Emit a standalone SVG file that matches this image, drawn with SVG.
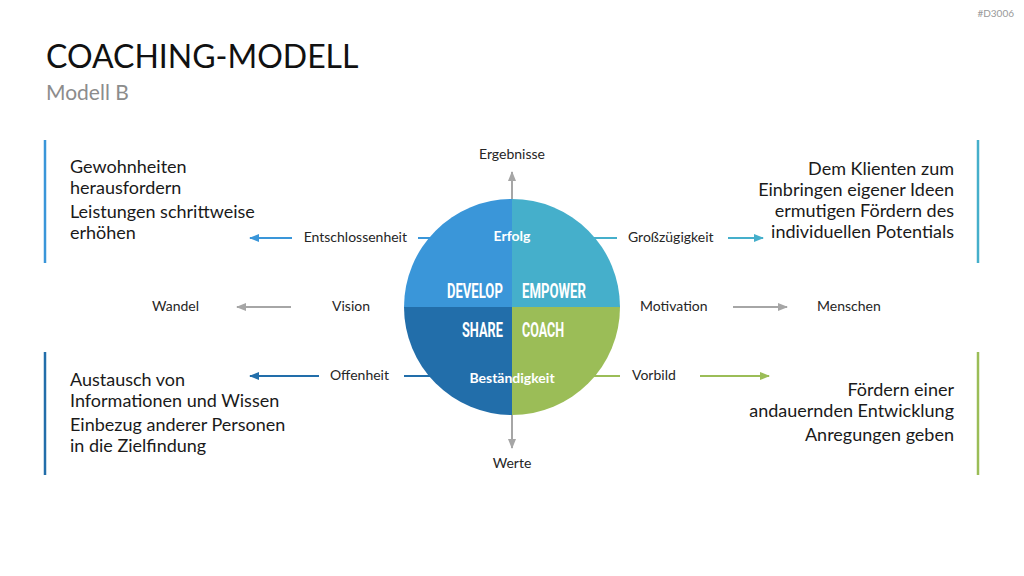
<svg xmlns="http://www.w3.org/2000/svg" width="1024" height="576" viewBox="0 0 1024 576">
<defs>
<style>
text{font-family:Lato,"Open Sans","Liberation Sans",sans-serif;}
.lbl{font-size:14px;fill:#262626;}
.body{font-size:18px;fill:#1a1a1a;}
.in{font-size:14px;font-weight:bold;fill:#fff;}
.big{font-family:Roboto,"Liberation Sans",sans-serif;font-size:21px;font-weight:bold;fill:#fff;}
.ln{stroke-width:2;fill:none;}
</style>
<marker id="aB" viewBox="0 0 10 10" refX="9" refY="5" markerWidth="5" markerHeight="5" orient="auto-start-reverse"><path d="M0,1 L10,5 L0,9 z" fill="#3a96d9"/></marker>
<marker id="aD" viewBox="0 0 10 10" refX="9" refY="5" markerWidth="5" markerHeight="5" orient="auto-start-reverse"><path d="M0,1 L10,5 L0,9 z" fill="#226eaa"/></marker>
<marker id="aT" viewBox="0 0 10 10" refX="9" refY="5" markerWidth="5" markerHeight="5" orient="auto-start-reverse"><path d="M0,1 L10,5 L0,9 z" fill="#45afcb"/></marker>
<marker id="aG" viewBox="0 0 10 10" refX="9" refY="5" markerWidth="5" markerHeight="5" orient="auto-start-reverse"><path d="M0,1 L10,5 L0,9 z" fill="#9bbd57"/></marker>
<marker id="aY" viewBox="0 0 10 10" refX="9" refY="5" markerWidth="5" markerHeight="5" orient="auto-start-reverse"><path d="M0,1 L10,5 L0,9 z" fill="#a6a6a6"/></marker>
</defs>
<rect width="1024" height="576" fill="#fff"/>
<text x="1014" y="17" text-anchor="end" style="font-size:10px;fill:#999">#D3006</text>
<text x="46" y="68" style="font-size:32px;fill:#111">COACHING-MODELL</text>
<text x="46" y="100" style="font-size:21px;fill:#8c8c8c">Modell B</text>

<g id="connectors">
<line class="ln" x1="418" y1="238" x2="440" y2="238" stroke="#3a96d9"/>
<line class="ln" x1="584" y1="238" x2="617" y2="238" stroke="#45afcb"/>
<line class="ln" x1="404" y1="376" x2="440" y2="376" stroke="#226eaa"/>
<line class="ln" x1="584" y1="376" x2="620" y2="376" stroke="#9bbd57"/>
<line class="ln" x1="292" y1="238" x2="250" y2="238" stroke="#3a96d9" marker-end="url(#aB)"/>
<line class="ln" x1="291" y1="307" x2="237" y2="307" stroke="#a6a6a6" marker-end="url(#aY)"/>
<line class="ln" x1="319" y1="376" x2="250" y2="376" stroke="#226eaa" marker-end="url(#aD)"/>
<line class="ln" x1="728" y1="238" x2="763" y2="238" stroke="#45afcb" marker-end="url(#aT)"/>
<line class="ln" x1="733" y1="307" x2="787" y2="307" stroke="#a6a6a6" marker-end="url(#aY)"/>
<line class="ln" x1="700" y1="376" x2="769" y2="376" stroke="#9bbd57" marker-end="url(#aG)"/>
</g>

<g id="circle">
<path d="M512,307 L404,307 A108,108 0 0 1 512,199 z" fill="#3a96d9"/>
<path d="M512,307 L512,199 A108,108 0 0 1 620,307 z" fill="#45afcb"/>
<path d="M512,307 L404,307 A108,108 0 0 0 512,415 z" fill="#226eaa"/>
<path d="M512,307 L512,415 A108,108 0 0 0 620,307 z" fill="#9bbd57"/>
<text class="in" x="512" y="241" text-anchor="middle">Erfolg</text>
<text class="in" x="512" y="383" text-anchor="middle">Beständigkeit</text>
<text class="big" transform="translate(447,298) scale(0.62,1)" x="0" y="0" textLength="90" lengthAdjust="spacingAndGlyphs">DEVELOP</text>
<text class="big" transform="translate(522,298) scale(0.62,1)" x="0" y="0" textLength="103" lengthAdjust="spacingAndGlyphs">EMPOWER</text>
<text class="big" transform="translate(462,337) scale(0.62,1)" x="0" y="0" textLength="66" lengthAdjust="spacingAndGlyphs">SHARE</text>
<text class="big" transform="translate(522,337) scale(0.62,1)" x="0" y="0" textLength="68" lengthAdjust="spacingAndGlyphs">COACH</text>
</g>

<g id="vertical">
<line class="ln" x1="512" y1="199" x2="512" y2="172" stroke="#a6a6a6" marker-end="url(#aY)"/>
<line class="ln" x1="512" y1="415" x2="512" y2="448" stroke="#a6a6a6" marker-end="url(#aY)"/>
<text class="lbl" x="512" y="159" text-anchor="middle">Ergebnisse</text>
<text class="lbl" x="512" y="468" text-anchor="middle">Werte</text>
</g>

<g id="labels">
<text class="lbl" x="407" y="242" text-anchor="end">Entschlossenheit</text>
<text class="lbl" x="351" y="311" text-anchor="middle">Vision</text>
<text class="lbl" x="389" y="380" text-anchor="end">Offenheit</text>
<text class="lbl" x="628" y="242">Großzügigkeit</text>
<text class="lbl" x="640" y="311">Motivation</text>
<text class="lbl" x="632" y="380">Vorbild</text>
<text class="lbl" x="199" y="311" text-anchor="end">Wandel</text>
<text class="lbl" x="817" y="311">Menschen</text>
</g>

<g id="develop">
<line x1="45" y1="140" x2="45" y2="263" stroke="#3a96d9" stroke-width="2.5"/>
<text class="body" x="70" y="173">Gewohnheiten</text>
<text class="body" x="70" y="194">herausfordern</text>
<text class="body" x="70" y="218">Leistungen schrittweise</text>
<text class="body" x="70" y="239">erhöhen</text>
</g>
<g id="empower">
<line x1="978" y1="140" x2="978" y2="263" stroke="#45afcb" stroke-width="2.5"/>
<text class="body" x="954" y="175" text-anchor="end">Dem Klienten zum</text>
<text class="body" x="954" y="196" text-anchor="end">Einbringen eigener Ideen</text>
<text class="body" x="954" y="217" text-anchor="end">ermutigen Fördern des</text>
<text class="body" x="954" y="238" text-anchor="end">individuellen Potentials</text>
</g>
<g id="share">
<line x1="45" y1="352" x2="45" y2="475" stroke="#226eaa" stroke-width="2.5"/>
<text class="body" x="70" y="386">Austausch von</text>
<text class="body" x="70" y="407">Informationen und Wissen</text>
<text class="body" x="70" y="431">Einbezug anderer Personen</text>
<text class="body" x="70" y="452">in die Zielfindung</text>
</g>
<g id="coach">
<line x1="978" y1="352" x2="978" y2="475" stroke="#9bbd57" stroke-width="2.5"/>
<text class="body" x="954" y="396" text-anchor="end">Fördern einer</text>
<text class="body" x="954" y="417" text-anchor="end">andauernden Entwicklung</text>
<text class="body" x="954" y="441" text-anchor="end">Anregungen geben</text>
</g>
</svg>
